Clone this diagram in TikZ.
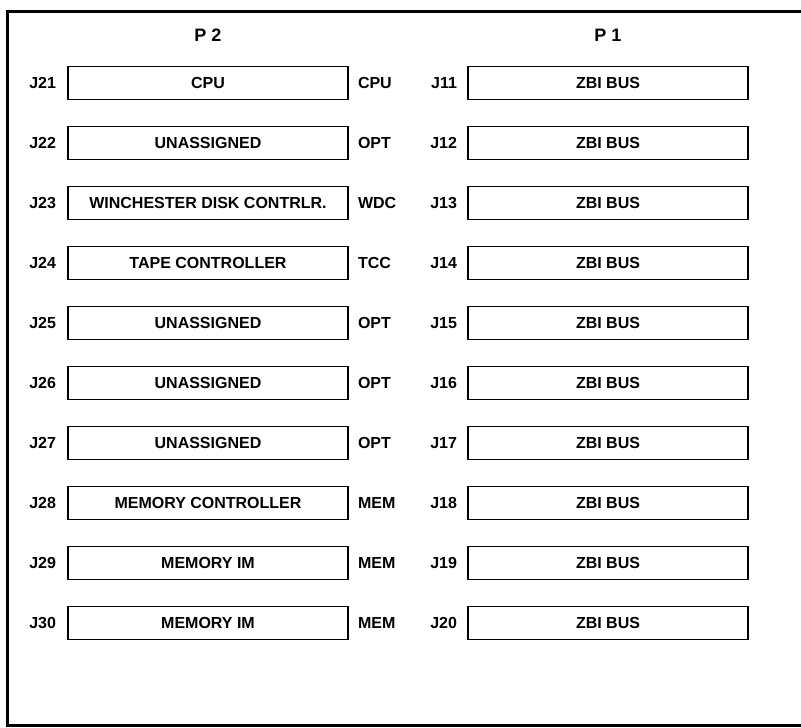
\documentclass[tikz,border=0pt]{standalone}
\usepackage{fontspec}
\setmainfont{Liberation Sans}
\usetikzlibrary{positioning}
\tikzset{
  slot/.style={rectangle, draw, line width=1.6pt, minimum width=280pt, minimum height=33pt,
               inner sep=0pt, font=\fontsize{16}{18}\selectfont\bfseries},
  jack/.style={inner sep=0pt, font=\fontsize{16}{18}\selectfont\bfseries},
  titel/.style={font=\fontsize{18}{20}\selectfont\bfseries},
  rand/.style={line width=3pt},
}
\begin{document}
\begin{tikzpicture}[x=1pt, y=-1pt]
  \useasboundingbox (0,0) rectangle (801,728);
  \draw[rand] (801,11) -- (7,11) -- (7,725) -- (801,725);
  \node[titel] (p2) at (208,35) {P 2};
  \node[titel] (p1) at (608,35) {P 1};
  \foreach \lj/\ltxt/\tg/\rj [count=\i] in {J21/CPU/CPU/J11, J22/UNASSIGNED/OPT/J12,
      J23/WINCHESTER DISK CONTRLR./WDC/J13, J24/TAPE CONTROLLER/TCC/J14,
      J25/UNASSIGNED/OPT/J15, J26/UNASSIGNED/OPT/J16, J27/UNASSIGNED/OPT/J17,
      J28/MEMORY CONTROLLER/MEM/J18, J29/MEMORY IM/MEM/J19, J30/MEMORY IM/MEM/J20} {
    \node[slot] (l\i) at (208,{83+60*(\i-1)}) {\ltxt};
    \node[jack, left=11pt of l\i] (lj\i) {\lj};
    \node[jack, right=9pt of l\i] (tg\i) {\tg};
    \node[slot] (r\i) at (608,{83+60*(\i-1)}) {ZBI BUS};
    \node[jack, left=10pt of r\i] (rj\i) {\rj};
  }
\end{tikzpicture}
\end{document}
